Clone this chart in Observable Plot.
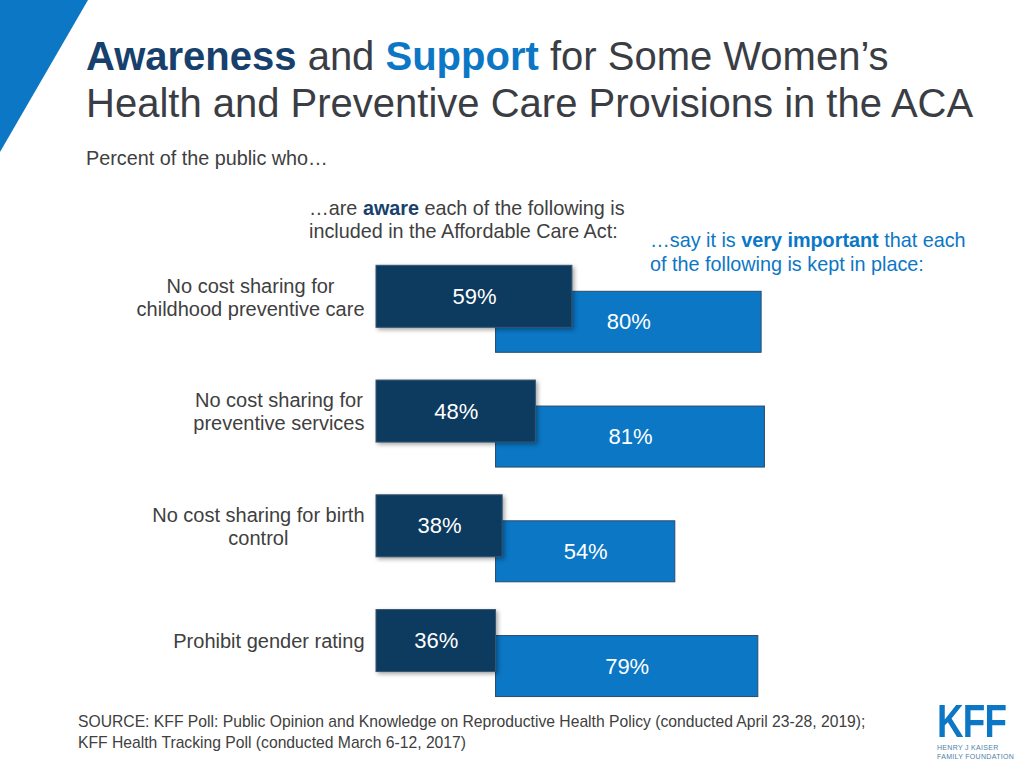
<!DOCTYPE html>
<html>
<head>
<meta charset="utf-8">
<script src="https://cdn.jsdelivr.net/npm/d3@7"></script>
<script src="https://cdn.jsdelivr.net/npm/@observablehq/plot@0.6"></script>
<style>
  html, body { margin: 0; padding: 0; background: #fff; }
  body { width: 1024px; height: 768px; position: relative; overflow: hidden;
         font-family: "Liberation Sans", Arial, Helvetica, sans-serif; color: #404040; }
  .abs { position: absolute; white-space: nowrap; }
  #title { left: 86px; top: 33px; font-size: 40px; line-height: 47px; color: #3a3d44; }
  #title .nv { color: #17416c; font-weight: bold; }
  #title .bl { color: #0b77c5; font-weight: bold; }
  #subtitle { left: 86px; top: 147px; font-size: 19.8px; color: #404040; }
  #h1 { left: 309px; top: 197px; font-size: 19.8px; line-height: 23px; color: #404040; }
  #h1 b { color: #17416c; }
  #h2 { left: 650px; top: 228px; font-size: 19.8px; line-height: 24px; color: #0b77c5; }
  #source { left: 78px; top: 711px; font-size: 15.7px; line-height: 21px; color: #404040; }
  #chart { position: absolute; left: 0; top: 251.7px; }
  #logo { left: 937px; top: 699px; width: 80px; }
  #logo .k { font-weight: bold; font-size: 46px; line-height: 44px; height: 44px; color: #0b77c5;
             transform: scaleX(0.8); transform-origin: left top; letter-spacing: -1px; }
  #logo .s { font-size: 7px; line-height: 9px; color: #4f7fa8; letter-spacing: 0.3px; }
</style>
</head>
<body>
<svg class="abs" style="left:0;top:0" width="100" height="160"><polygon points="0,0 88,0 0,152" fill="#0b77c5"/></svg>
<div id="title" class="abs"><span class="nv">Awareness</span> and <span class="bl">Support</span> for Some Women’s<br>Health and Preventive Care Provisions in the ACA</div>
<div id="subtitle" class="abs">Percent of the public who…</div>
<div id="h1" class="abs">…are <b>aware</b> each of the following is<br>included in the Affordable Care Act:</div>
<div id="h2" class="abs">…say it is <b>very important</b> that each<br>of the following is kept in place:</div>
<div id="chart"></div>
<div id="source" class="abs">SOURCE: KFF Poll: Public Opinion and Knowledge on Reproductive Health Policy (conducted April 23-28, 2019);<br>KFF Health Tracking Poll (conducted March 6-12, 2017)</div>
<div id="logo" class="abs"><div class="k">KFF</div><div class="s">HENRY J KAISER<br>FAMILY FOUNDATION</div></div>
<script>
const categories = [
  "No cost sharing for\nchildhood preventive care",
  "No cost sharing for\npreventive services",
  "No cost sharing for birth\ncontrol",
  "Prohibit gender rating"
];
const aware = [59, 48, 38, 36];
const important = [80, 81, 54, 79];

const rows = categories.map((c, i) => ({cat: c, aware: aware[i], important: important[i]}));
const OFFSET = d3.min(aware);

const font = "Liberation Sans, Arial, Helvetica, sans-serif";
const LABEL_SIZE = 20;
const ctx = document.createElement("canvas").getContext("2d");
ctx.font = `${LABEL_SIZE}px "Liberation Sans", Arial, sans-serif`;
const blockWidth = s => d3.max(s.split("\n"), l => ctx.measureText(l).width);

const labelMarks = rows.map(r =>
  Plot.text([r], {y: "cat", x: () => 0, text: "cat", textAnchor: "middle",
    dx: -(12 + blockWidth(r.cat) / 2), dy: -13.1,
    fill: "#404040", fontSize: LABEL_SIZE, lineHeight: 1.15})
);

const chart = Plot.plot({
  width: 1024,
  height: 459,
  marginTop: 0,
  marginBottom: 0,
  marginLeft: 376,
  marginRight: 216.4,
  style: {fontFamily: font, background: "transparent", overflow: "visible"},
  x: {domain: [0, 130], axis: null},
  y: {domain: categories, padding: 0, round: false, axis: null},
  marks: [
    Plot.barX(rows, {y: "cat", x1: () => OFFSET, x2: d => OFFSET + d.important,
      fill: "#0b77c5", stroke: "#2c4c6c", strokeWidth: 1, insetTop: 39.3, insetBottom: 14.45}),
    Plot.barX(rows, {y: "cat", x1: () => 0, x2: d => d.aware,
      fill: "#0d3a5f", stroke: "#3a5670", strokeWidth: 1, insetTop: 13.3, insetBottom: 39.45,
      className: "awarebar"}),
    Plot.text(rows, {y: "cat", x: d => d.aware / 2, text: d => d.aware + "%",
      fill: "white", fontSize: 22, dy: -13.1}),
    Plot.text(rows, {y: "cat", x: d => OFFSET + d.important / 2, text: d => d.important + "%",
      fill: "white", fontSize: 22, dy: 12.4}),
    ...labelMarks
  ]
});
const ab = chart.querySelector(".awarebar");
if (ab) ab.style.filter = "drop-shadow(2px 2px 2px rgba(0,0,0,0.35))";
document.getElementById("chart").appendChild(chart);
</script>
</body>
</html>
